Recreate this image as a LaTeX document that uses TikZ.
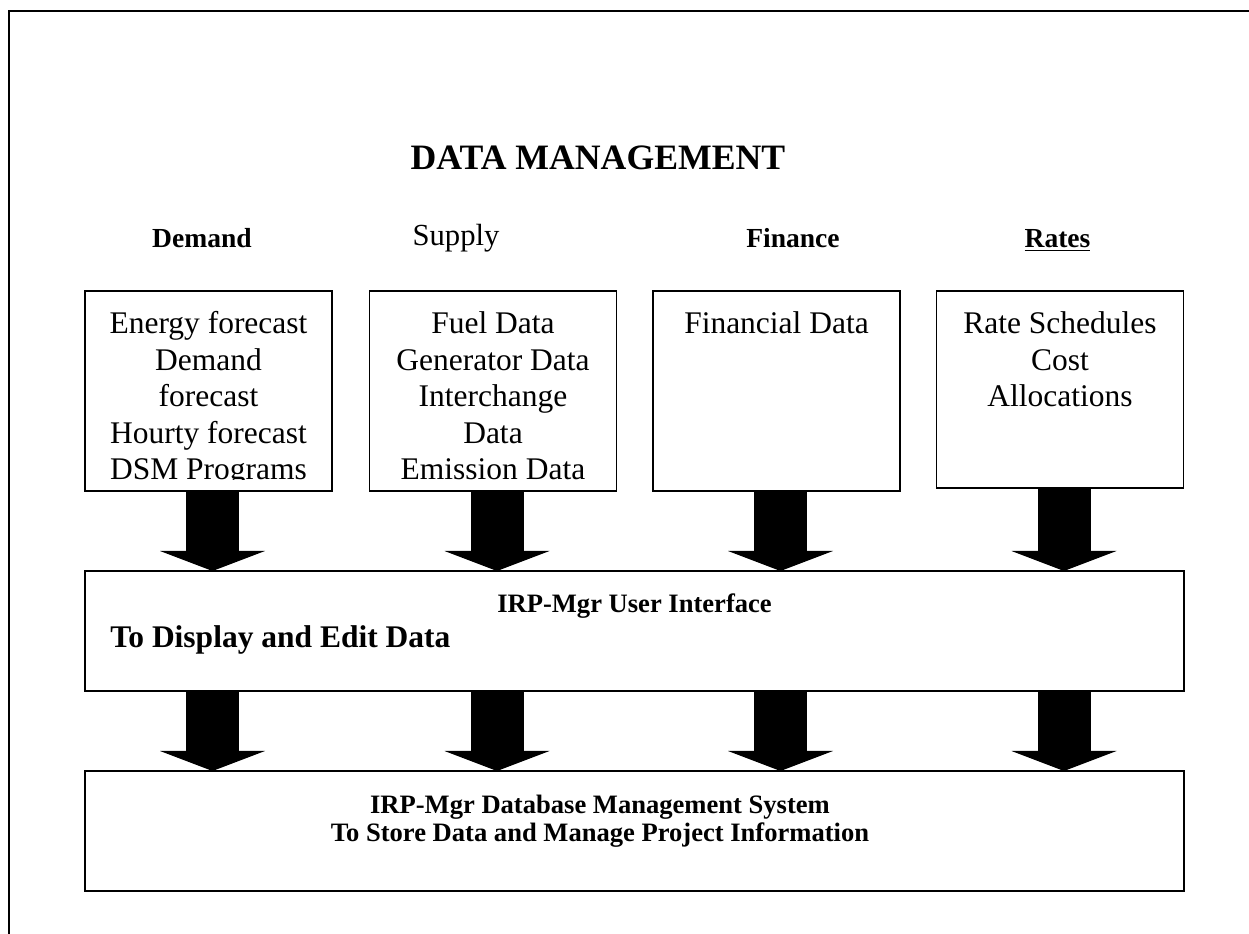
\documentclass[tikz,border=0pt]{standalone}
\usepackage{fontspec}
\setmainfont{Liberation Serif}
\usepackage{tikz}
\usetikzlibrary{positioning, arrows.meta}

\begin{document}
\begin{tikzpicture}[
    databox/.style={rectangle, draw, line width=0.8pt, minimum width=6.175cm,
                    minimum height=5cm, inner sep=0pt, outer sep=0pt},
    widebox/.style={rectangle, draw, line width=1pt, minimum width=27.475cm,
                    minimum height=3cm, inner sep=0pt, outer sep=0pt},
    boxtxt/.style={align=center, inner sep=0pt,
                   font=\fontsize{22.4}{25.96}\selectfont},
    hdr/.style={anchor=base, inner sep=0pt,
                font=\fontsize{19.6}{23}\selectfont\bfseries},
    bigarr/.style={line width=1.325cm,
                   -{Triangle[width=2.625cm, length=0.5cm, line width=0pt]}}
  ]
  \useasboundingbox (0,0) rectangle (31.225,23.35);
  % page frame, runs off to the right and bottom
  \draw[line width=1pt] (0.225,-1) rectangle (32,23.075);

  \node[anchor=base, font=\fontsize{25.4}{30}\selectfont\bfseries] (title)
        at (14.95, 19.1) {DATA MANAGEMENT};

  % column headings
  \node[hdr] (hdem) at (5.05, 17.15) {Demand};
  \node[anchor=base, inner sep=0pt, font=\fontsize{21.8}{26}\selectfont]
        (hsup) at (11.4, 17.2) {Supply};
  \node[hdr] (hfin) at (19.825, 17.15) {Finance};
  \node[hdr] (hrat) at (26.4375, 17.15) {\underline{Rates}};

  % data boxes
  \node[databox] (dem) at (5.2125, 13.575) {};
  \node[databox] (sup) at (12.325, 13.575) {};
  \node[databox] (fin) at (19.4125, 13.575) {};
  \node[databox, minimum height=4.925cm] (rat) at (26.5, 13.6125) {};

  \begin{scope}
    \clip ([yshift=0.275cm]dem.south west) rectangle (dem.north east);
    \node[boxtxt, below=0.5125cm of dem.north] (demtxt)
          {Energy forecast\\Demand\\forecast\\Hourty forecast\\DSM Programs};
  \end{scope}
  \begin{scope}
    \clip ([yshift=0.275cm]sup.south west) rectangle (sup.north east);
    \node[boxtxt, below=0.5125cm of sup.north] (suptxt)
          {Fuel Data\\Generator Data\\Interchange\\Data\\Emission Data};
  \end{scope}
  \node[boxtxt, below=0.5125cm of fin.north] (fintxt) {Financial Data};
  \node[boxtxt, below=0.5125cm of rat.north] (rattxt)
        {Rate Schedules\\Cost\\Allocations};

  % interface and database
  \node[widebox] (ui) at (15.8625, 7.575) {};
  \node[anchor=base, inner sep=0pt, font=\fontsize{18.9}{22}\selectfont\bfseries]
        (uititle) at (15.8625, 8.025) {IRP-Mgr User Interface};
  \node[anchor=base west, inner sep=0pt,
        font=\fontsize{22.4}{26}\selectfont\bfseries]
        (uisub) at (2.75, 7.15) {To Display and Edit Data};

  \node[widebox] (db) at (15.8625, 2.575) {};
  \node[align=center, inner sep=0pt,
        font=\fontsize{18.9}{19.9}\selectfont\bfseries] (dbtxt) at (15.0, 2.825)
        {IRP-Mgr Database Management System\\
         To Store Data and Manage Project Information};

  % block arrows, set a little right of each box centre
  \foreach \b in {dem, sup, fin, rat} {
    \draw[bigarr] ([xshift=1mm]\b.south) -- ([xshift=1mm]\b.south |- ui.north);
    \draw[bigarr] ([xshift=1mm]\b.south |- ui.south)
                  -- ([xshift=1mm]\b.south |- db.north);
  }
\end{tikzpicture}
\end{document}
